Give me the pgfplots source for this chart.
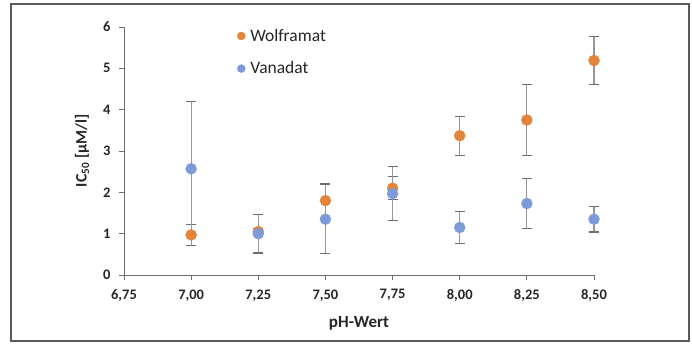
\documentclass[border=0pt]{standalone}
\usepackage{pgfplots}
\pgfplotsset{compat=1.18}
\usepackage{fontspec}
\setmainfont{Carlito}
\definecolor{wolf}{RGB}{226,133,58}
\definecolor{vana}{RGB}{124,155,216}
\definecolor{errc}{RGB}{150,150,150}
\definecolor{axc}{RGB}{110,110,110}
\begin{document}
\begin{tikzpicture}
\useasboundingbox (0pt,0pt) rectangle (692pt,345pt);
\draw[color={rgb,255:red,90;green,90;blue,90}, line width=1.4pt] (11pt,4pt) rectangle (689pt,341pt);
\begin{axis}[
  at={(124pt,70pt)}, anchor=origin,
  scale only axis, width=470pt, height=248pt,
  xmin=6.75, xmax=8.5, ymin=0, ymax=6,
  xtick={6.75,7,7.25,7.5,7.75,8,8.25,8.5},
  ytick={0,1,2,3,4,5,6},
  axis lines=left,
  axis line style={-, draw=axc, line width=1pt},
  tick align=outside,
  major tick length=5pt,
  tick style={draw=axc, line width=0.9pt},
  x tick label style={/pgf/number format/.cd, fixed, fixed zerofill, precision=2, use comma, assume math mode=true},
  y tick label style={/pgf/number format/.cd, fixed, assume math mode=true},
  ticklabel style={font=\fontsize{14.5}{14.5}\selectfont\bfseries, text=black!85},
  xticklabel shift=6pt,
  yticklabel shift=5pt,
  xlabel={pH-Wert},
  ylabel={IC\textsubscript{50} [µM/l]},
  xlabel style={font=\fontsize{17}{17}\selectfont\bfseries, text=black!85, yshift=-8pt},
  ylabel style={font=\fontsize{16}{16}\selectfont\bfseries, text=black!85, yshift=7pt},
  legend style={at={(axis cs:7.16,6.05)}, anchor=north west, draw=none, fill=none,
    font=\fontsize{17.5}{17.5}\selectfont, text=black!85, row sep=15pt,
    /tikz/every odd column/.append style={column sep=3pt}},
  legend cell align=left,
  legend image code/.code={\draw[#1, mark size=4pt] plot coordinates {(0.1cm,0cm)};},
  clip=false,
]
\addplot+[only marks, mark=*, mark size=5.5pt, color=wolf, mark options={fill=wolf, draw=none},
  error bars/.cd, y dir=both, y explicit,
  error bar style={draw=errc, line width=1.2pt},
  error mark options={rotate=90, mark size=5pt, draw=axc, line width=1.2pt}]
  table[x=x, y=y, y error=e] {
  x y e
  7.00 0.97 0.25
  7.25 1.05 0.08
  7.50 1.80 0.42
  7.75 2.10 0.28
  8.00 3.37 0.47
  8.25 3.75 0.85
  8.50 5.19 0.58
};
\addlegendentry{Wolframat}
\addplot+[only marks, mark=*, mark size=5.5pt, color=vana, mark options={fill=vana, draw=none},
  error bars/.cd, y dir=both, y explicit,
  error bar style={draw=errc, line width=1.2pt},
  error mark options={rotate=90, mark size=5pt, draw=axc, line width=1.2pt}]
  table[x=x, y=y, y error=e] {
  x y e
  7.00 2.57 1.63
  7.25 1.00 0.47
  7.50 1.35 0.83
  7.75 1.97 0.66
  8.00 1.15 0.38
  8.25 1.73 0.61
  8.50 1.35 0.31
};
\addlegendentry{Vanadat}
\end{axis}
\end{tikzpicture}
\end{document}
